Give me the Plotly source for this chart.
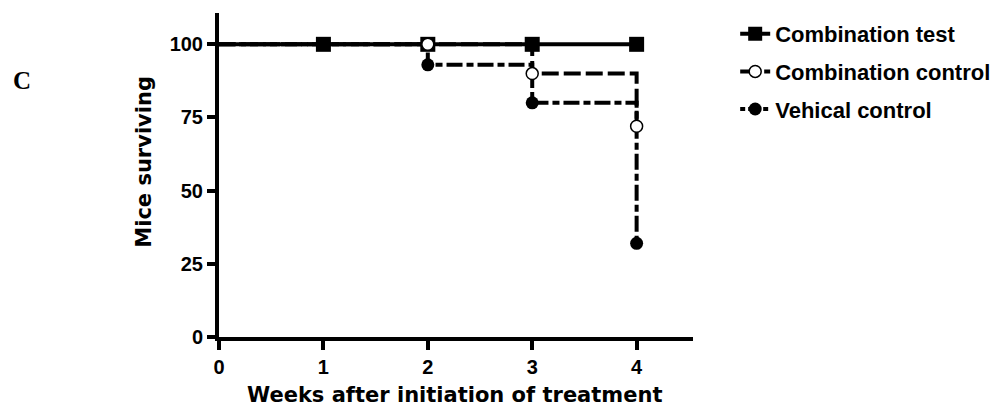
import plotly.graph_objects as go

# ---- data ----
series_names = ["Combination test", "Combination control", "Vehical control"]
test_weeks = [0, 1, 2, 3, 4]
test_surv = [100, 100, 100, 100, 100]
ctrl_weeks = [0, 2, 3, 4]
ctrl_surv = [100, 100, 90, 72]
veh_weeks = [0, 2, 3, 4]
veh_surv = [100, 93, 80, 32]
x_ticks = [0, 1, 2, 3, 4]
y_ticks = [0, 25, 50, 75, 100]

FONT = "Liberation Sans, Arial, sans-serif"
TITLE_FONT = "DejaVu Sans, Verdana, sans-serif"
BLACK = "#000000"

fig = go.Figure()

# step lines (Kaplan-Meier style)
fig.add_trace(go.Scatter(x=veh_weeks, y=veh_surv, mode="lines", line_shape="hv",
                         line=dict(color=BLACK, width=4, dash="16px,4px,7px,4px"),
                         showlegend=False, hoverinfo="skip"))
fig.add_trace(go.Scatter(x=ctrl_weeks, y=ctrl_surv, mode="lines", line_shape="hv",
                         line=dict(color=BLACK, width=4, dash="17px,5px"),
                         showlegend=False, hoverinfo="skip"))
fig.add_trace(go.Scatter(x=test_weeks, y=test_surv, mode="lines", line_shape="hv",
                         line=dict(color=BLACK, width=4),
                         showlegend=False, hoverinfo="skip"))

# markers (not at week 0)
fig.add_trace(go.Scatter(x=veh_weeks[1:], y=veh_surv[1:], mode="markers",
                         marker=dict(symbol="circle", size=13, color=BLACK),
                         showlegend=False))
fig.add_trace(go.Scatter(x=test_weeks[1:], y=test_surv[1:], mode="markers",
                         marker=dict(symbol="square", size=15, color=BLACK),
                         showlegend=False))
fig.add_trace(go.Scatter(x=ctrl_weeks[1:], y=ctrl_surv[1:], mode="markers",
                         marker=dict(symbol="circle", size=12, color="white",
                                     line=dict(color=BLACK, width=1.5)),
                         showlegend=False))

# legend entries
legend_styles = [
    dict(line=dict(color=BLACK, width=4), marker=dict(symbol="square", size=14, color=BLACK)),
    dict(line=dict(color=BLACK, width=4, dash="9px,3px"),
         marker=dict(symbol="circle", size=12, color="white", line=dict(color=BLACK, width=1.5))),
    dict(line=dict(color=BLACK, width=4, dash="5px,3px,12px,3px"),
         marker=dict(symbol="circle", size=13, color=BLACK)),
]
for i, (name, st) in enumerate(zip(series_names, legend_styles)):
    fig.add_trace(go.Scatter(x=[None], y=[None], mode="lines+markers", name=name,
                             legendgroup=name, legendrank=i + 1, **st))

tickfont = dict(family=FONT, size=20, color=BLACK, weight="bold")

fig.update_xaxes(range=[0, 4.54], tickvals=x_ticks, ticktext=[str(v) for v in x_ticks],
                 showline=True, linewidth=4, linecolor=BLACK, ticks="outside",
                 ticklen=9, tickwidth=4, tickcolor=BLACK, showgrid=False, zeroline=False,
                 tickfont=tickfont)
fig.update_yaxes(range=[0, 110.7], tickvals=y_ticks, ticktext=[str(v) for v in y_ticks],
                 showline=True, linewidth=4, linecolor=BLACK, ticks="outside",
                 ticklen=8, tickwidth=4, tickcolor=BLACK, showgrid=False, zeroline=False,
                 tickfont=tickfont)

fig.add_annotation(text="Weeks after initiation of treatment", xref="paper", yref="paper",
                   x=0.497, y=-0.178, xanchor="center", yanchor="middle", showarrow=False,
                   font=dict(family=TITLE_FONT, size=21, color=BLACK, weight="bold"))
fig.add_annotation(text="Mice surviving", xref="paper", yref="paper",
                   x=-0.159, y=0.54, xanchor="center", yanchor="middle", textangle=-90,
                   showarrow=False,
                   font=dict(family=TITLE_FONT, size=21, color=BLACK, weight="bold"))
fig.add_annotation(text="C", xref="paper", yref="paper",
                   x=-0.416, y=0.793, xanchor="center", yanchor="middle", showarrow=False,
                   font=dict(family="Liberation Serif, Times New Roman, serif", size=25,
                             color=BLACK, weight="bold"))

fig.update_layout(
    width=999, height=410,
    margin=dict(l=219, r=306, t=13, b=73, autoexpand=False),
    paper_bgcolor="white", plot_bgcolor="white",
    showlegend=True,
    legend=dict(x=1.089, y=1.0, xanchor="left", yanchor="top",
                font=dict(family=FONT, size=22, color=BLACK, weight="bold"),
                traceorder="grouped", tracegroupgap=6, bgcolor="rgba(0,0,0,0)"),
)

fig.write_html("out.html")
